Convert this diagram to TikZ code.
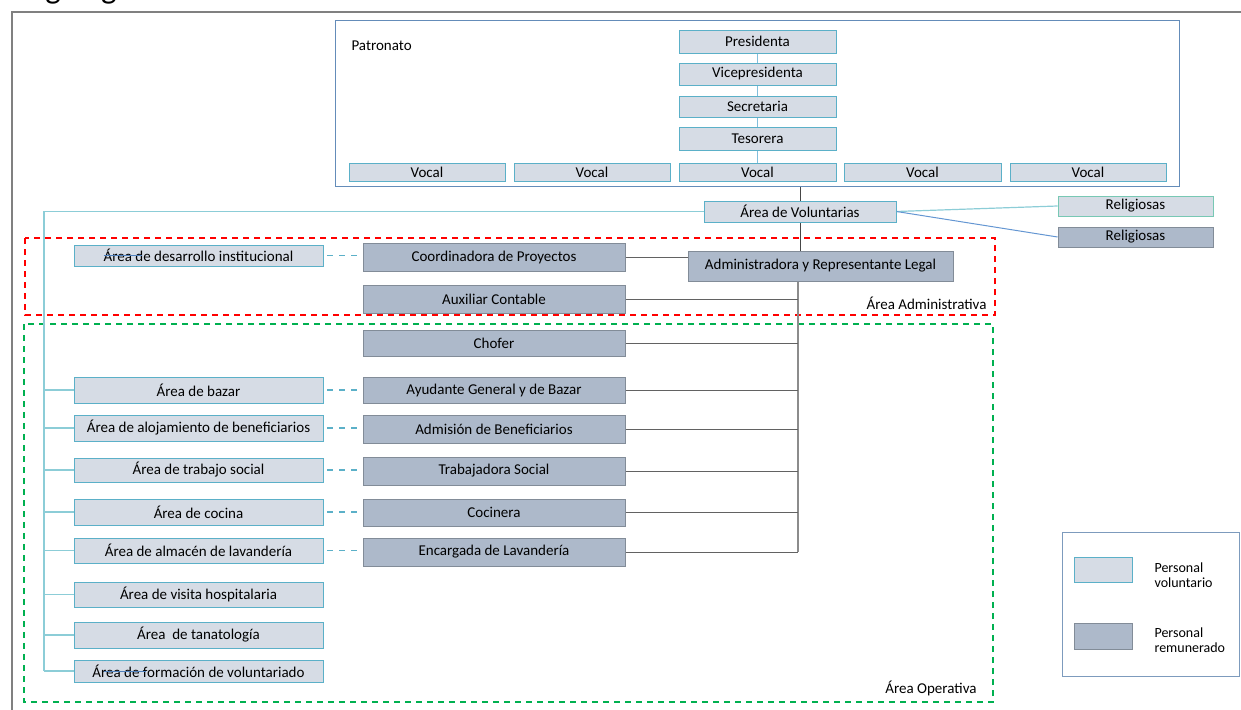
\documentclass[tikz,border=0pt]{standalone}
\usepackage{fontspec}
\setmainfont{Carlito}
\usetikzlibrary{backgrounds}

\definecolor{volfill}{RGB}{214,220,229}
\definecolor{volborder}{RGB}{91,176,200}
\definecolor{relborder}{RGB}{120,200,180}
\definecolor{remfill}{RGB}{173,185,202}
\definecolor{remborder}{RGB}{130,140,152}
\definecolor{patrframe}{RGB}{100,140,185}
\definecolor{legframe}{RGB}{125,155,189}
\definecolor{outerframe}{RGB}{128,128,128}
\definecolor{treeteal}{RGB}{140,205,215}
\definecolor{patlinkc}{RGB}{130,190,220}
\definecolor{rellinkb}{RGB}{100,150,210}
\definecolor{straybl}{RGB}{79,129,189}
\definecolor{admred}{RGB}{255,0,0}
\definecolor{opgreen}{RGB}{0,176,80}
\definecolor{darkline}{RGB}{70,70,70}
\definecolor{trunkgray}{RGB}{140,140,140}

% box placed by its corners: style, name, x1, y1, x2, y2, text
\newcommand\orgbox[7]{%
  \node[#1, minimum width={#5-#3}, minimum height={#6-#4}] (#2)
    at ({(#3+#5)/2},{(#4+#6)/2}) {#7};}

\begin{document}
\begin{tikzpicture}[x=1pt,y=-1pt,
  every node/.style={font=\fontsize{15}{16}\selectfont, text=black},
  basebox/.style={draw, line width=0.9pt, inner sep=0pt, align=center},
  vol/.style={basebox, draw=volborder, fill=volfill},
  volrel/.style={basebox, draw=relborder, fill=volfill},
  rem/.style={basebox, draw=remborder, fill=remfill},
  framebox/.style={draw=patrframe, line width=1pt, inner sep=0pt},
  legbox/.style={draw=legframe, line width=1pt, inner sep=0pt},
  legtext/.style={anchor=west, align=left, font=\fontsize{14}{15}\selectfont},
  patlink/.style={draw=patlinkc, line width=1.2pt},
  darklink/.style={draw=darkline, line width=1pt},
  trunkv/.style={draw=trunkgray, line width=1.2pt},
  trunkh/.style={draw=darkline!85, line width=1pt},
  treelink/.style={draw=treeteal, line width=1.2pt},
  dashlink/.style={draw=volborder, line width=1.2pt, dash pattern=on 6pt off 6pt, dash phase=8pt},
  straylink/.style={draw=straybl, line width=1pt},
  redzone/.style={draw=admred, line width=2.8pt, dash pattern=on 6pt off 5pt},
  greenzone/.style={draw=opgreen, line width=2.8pt, dash pattern=on 6pt off 5pt},
]
\useasboundingbox (0,0) rectangle (1241,709);

% page title, mostly above the page edge
\node[anchor=base west, font=\fontsize{33}{33}\selectfont] (title) at (9,-1) {Organigrama};

% outer frame
\draw[draw=outerframe, line width=2pt] (11.5,12.5) rectangle (1260,730);

% Patronato
\orgbox{framebox}{patr}{335}{21}{1179}{186}{}
\node[anchor=west] (patrlbl) at (348,46) {Patronato};
\orgbox{vol}{pres}{679}{30}{836}{53}{Presidenta}
\orgbox{vol}{vice}{679}{63}{836}{85}{Vicepresidenta}
\orgbox{vol}{secr}{679}{96}{836}{117}{Secretaria}
\orgbox{vol}{teso}{679}{127}{836}{150}{Tesorera}
\orgbox{vol}{vocal1}{349}{163}{505}{181}{Vocal}
\orgbox{vol}{vocal2}{514}{163}{670}{181}{Vocal}
\orgbox{vol}{vocal3}{679}{163}{836}{181}{Vocal}
\orgbox{vol}{vocal4}{844}{163}{1001}{181}{Vocal}
\orgbox{vol}{vocal5}{1010}{163}{1166}{181}{Vocal}

% volunteers and religious staff
\orgbox{vol}{adv}{704}{201}{896}{222}{Área de Voluntarias}
\orgbox{volrel}{rel1}{1058}{196}{1213}{216}{Religiosas}
\orgbox{rem}{rel2}{1058}{227}{1213}{247}{Religiosas}

% administration
\orgbox{rem}{admin}{688}{251}{953}{281}{Administradora y Representante Legal}
\orgbox{rem}{coord}{363}{243}{625}{271}{Coordinadora de Proyectos}
\orgbox{rem}{aux}{363}{285}{625}{313}{Auxiliar Contable}
\orgbox{vol}{desarr}{74}{245}{323}{266}{Área de desarrollo institucional}

% operations, paid staff
\orgbox{rem}{chofer}{363}{330}{625}{356}{Chofer}
\orgbox{rem}{ayud}{363}{377}{625}{403}{Ayudante General y de Bazar}
\orgbox{rem}{admis}{363}{415}{625}{443}{Admisión de Beneficiarios}
\orgbox{rem}{trab}{363}{457}{625}{485}{Trabajadora Social}
\orgbox{rem}{coci}{363}{499}{625}{526}{Cocinera}
\orgbox{rem}{encar}{363}{538}{625}{566}{Encargada de Lavandería}

% operations, volunteer areas
\orgbox{vol}{bazar}{74}{377}{323}{403}{Área de bazar}
\orgbox{vol}{aloj}{74}{415}{323}{441}{Área de alojamiento de beneficiarios}
\orgbox{vol}{tsoc}{74}{458}{323}{482}{Área de trabajo social}
\orgbox{vol}{cocina}{74}{499}{323}{525}{Área de cocina}
\orgbox{vol}{almacen}{74}{538}{323}{563}{Área de almacén de lavandería}
\orgbox{vol}{visita}{74}{582}{323}{607}{Área de visita hospitalaria}
\orgbox{vol}{tanat}{74}{622}{323}{648}{Área\ \ de tanatología}
\orgbox{vol}{formac}{74}{660}{323}{682}{Área de formación de voluntariado}

% zone labels
\node[anchor=east] (admlbl) at (990,303) {Área Administrativa};
\node[anchor=east] (oplbl) at (980,688) {Área Operativa};

% legend
\orgbox{legbox}{legend}{1062}{532}{1239}{676}{}
\orgbox{vol}{swvol}{1074}{557}{1132}{582}{}
\orgbox{rem}{swrem}{1074}{623}{1132}{649}{}
\node[legtext] (legvol) at (1151,575) {Personal\\voluntario};
\node[legtext] (legrem) at (1151,640) {Personal\\remunerado};

% trunk positions
\coordinate (tk) at (800.5,0);
\coordinate (tkb) at (798,0);
\coordinate (lt) at (44,0);

\begin{scope}[on background layer]
  % zones
  \draw[redzone] (25,238) rectangle (995,315);
  \draw[greenzone] (24,324) rectangle (993,702);

  % Patronato chain
  \draw[patlink] (pres.south) -- (vice.north);
  \draw[patlink] (vice.south) -- (secr.north);
  \draw[patlink] (secr.south) -- (teso.north);
  \draw[patlink] (teso.south) -- (vocal3.north);

  % main trunk
  \draw[darklink] (patr.south -| tk) -- (adv.north -| tk);
  \draw[darklink] (adv.south -| tk) -- (admin.north -| tk);
  \draw[trunkv] (admin.south -| tkb) -- (encar.east -| tkb);
  \foreach \n in {aux,chofer,ayud,admis,trab,coci,encar}
    \draw[trunkh] (\n.east) -- (\n.east -| tkb);
  \draw[trunkh] (coord.east) -- (coord.east -| admin.west);

  % religious staff
  \draw[treelink] (adv.east) -- (rel1.west);
  \draw[draw=rellinkb, line width=1pt] (adv.east) -- (rel2.west);

  % volunteer tree
  \draw[treelink] (adv.west) -| (lt |- formac.west);
  \foreach \n in {bazar,aloj,tsoc,cocina,almacen,visita,tanat,formac}
    \draw[treelink] (\n.west -| lt) -- (\n.west);

  % volunteer areas to paid posts
  \foreach \a/\b in {desarr/coord,bazar/ayud,aloj/admis,tsoc/trab,cocina/coci,almacen/encar}
    \draw[dashlink] (\a.east) -- (\a.east -| \b.west);
\end{scope}

% short line strokes lying over two boxes
\draw[straylink] ([xshift=30pt]desarr.west) -- ([xshift=68pt]desarr.west);
\draw[straylink] ([xshift=30pt]formac.west) -- ([xshift=72pt]formac.west);
\end{tikzpicture}
\end{document}
